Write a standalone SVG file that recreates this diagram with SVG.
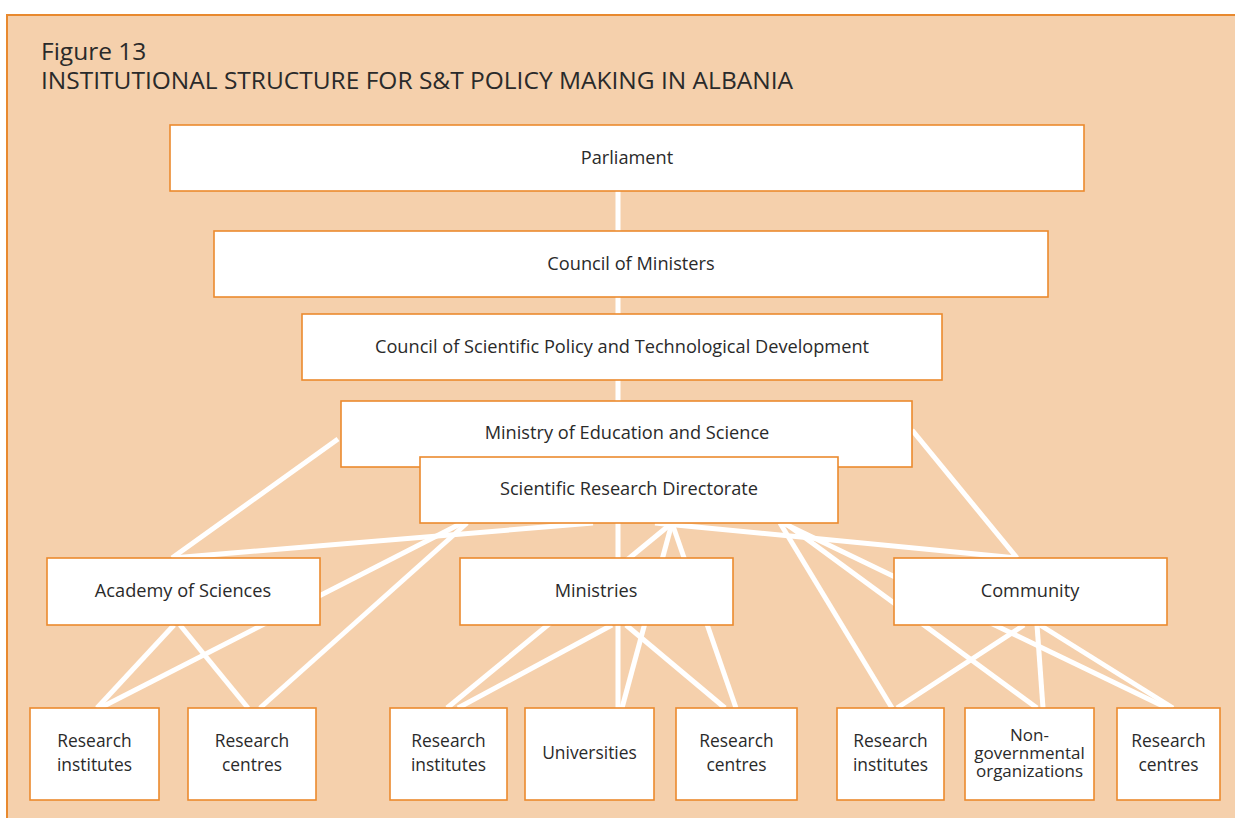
<svg xmlns="http://www.w3.org/2000/svg" width="1235" height="818" viewBox="0 0 1235 818">
<style>
.bg{fill:#F5D0AC;stroke:#E8892E;stroke-width:2}
.box{fill:#FFFFFF;stroke:#EC8A2E;stroke-width:1.6}
.t{font-family:"Open Sans","Noto Sans",sans-serif;font-size:18.2px;fill:#2A2A2A;text-anchor:middle}
.s{font-size:17.4px}
.n{font-size:17px}
.title{font-family:"Open Sans","Noto Sans",sans-serif;font-size:24.5px;fill:#2A2A2A}
.c line{stroke:#FFFFFF;stroke-width:5;fill:none}
</style>
<rect class="bg" x="7" y="15" width="1240" height="820"/>
<text class="title" x="41" y="60">Figure 13</text>
<text class="title" x="41" y="89">INSTITUTIONAL STRUCTURE FOR S&amp;T POLICY MAKING IN ALBANIA</text>
<g id="connectors" class="c">
<line x1="618" y1="191" x2="618" y2="708"/>
<line x1="338" y1="439" x2="172" y2="558"/>
<line x1="912" y1="430" x2="1017" y2="558"/>
<line x1="593" y1="523" x2="172" y2="558"/>
<line x1="655" y1="523" x2="1017" y2="558"/>
<line x1="462" y1="523" x2="100" y2="708"/>
<line x1="467" y1="523" x2="260" y2="708"/>
<line x1="672" y1="523" x2="447" y2="708"/>
<line x1="672" y1="523" x2="622" y2="708"/>
<line x1="672" y1="523" x2="736" y2="708"/>
<line x1="780" y1="523" x2="892" y2="708"/>
<line x1="785" y1="523" x2="1037" y2="708"/>
<line x1="783" y1="523" x2="1167" y2="708"/>
<line x1="174" y1="625" x2="97" y2="708"/>
<line x1="180" y1="625" x2="248" y2="708"/>
<line x1="612" y1="625" x2="458" y2="708"/>
<line x1="626" y1="625" x2="725" y2="708"/>
<line x1="1024" y1="625" x2="897" y2="708"/>
<line x1="1037" y1="625" x2="1043" y2="708"/>
<line x1="1040" y1="625" x2="1173" y2="708"/>
</g>
<g id="parliament"><rect class="box" x="170" y="125" width="914" height="66"/><text class="t" x="627" y="164">Parliament</text></g>
<g id="council-ministers"><rect class="box" x="214" y="231" width="834" height="66"/><text class="t" x="631" y="270">Council of Ministers</text></g>
<g id="council-scientific"><rect class="box" x="302" y="314" width="640" height="66"/><text class="t" x="622" y="353">Council of Scientific Policy and Technological Development</text></g>
<g id="ministry-education"><rect class="box" x="341" y="401" width="571" height="66"/><text class="t" x="627" y="439">Ministry of Education and Science</text></g>
<g id="directorate"><rect class="box" x="420" y="457" width="418" height="66"/><text class="t" x="629" y="495">Scientific Research Directorate</text></g>
<g id="academy"><rect class="box" x="47" y="558" width="273" height="67"/><text class="t" x="183" y="597">Academy of Sciences</text></g>
<g id="ministries"><rect class="box" x="460" y="558" width="273" height="67"/><text class="t" x="596" y="597">Ministries</text></g>
<g id="community"><rect class="box" x="894" y="558" width="273" height="67"/><text class="t" x="1030" y="597">Community</text></g>
<g id="ri1"><rect class="box" x="30" y="708" width="129" height="92"/><text class="t s" x="94.5" y="747">Research</text><text class="t s" x="94.5" y="771">institutes</text></g>
<g id="rc1"><rect class="box" x="188" y="708" width="128" height="92"/><text class="t s" x="252" y="747">Research</text><text class="t s" x="252" y="771">centres</text></g>
<g id="ri2"><rect class="box" x="390" y="708" width="117" height="92"/><text class="t s" x="448.5" y="747">Research</text><text class="t s" x="448.5" y="771">institutes</text></g>
<g id="universities"><rect class="box" x="525" y="708" width="129" height="92"/><text class="t s" x="589.5" y="759">Universities</text></g>
<g id="rc2"><rect class="box" x="676" y="708" width="121" height="92"/><text class="t s" x="736.5" y="747">Research</text><text class="t s" x="736.5" y="771">centres</text></g>
<g id="ri3"><rect class="box" x="837" y="708" width="107" height="92"/><text class="t s" x="890.5" y="747">Research</text><text class="t s" x="890.5" y="771">institutes</text></g>
<g id="ngo"><rect class="box" x="965" y="708" width="129" height="92"/><text class="t n" x="1029.5" y="741">Non-</text><text class="t n" x="1029.5" y="759">governmental</text><text class="t n" x="1029.5" y="777">organizations</text></g>
<g id="rc3"><rect class="box" x="1117" y="708" width="103" height="92"/><text class="t s" x="1168.5" y="747">Research</text><text class="t s" x="1168.5" y="771">centres</text></g>
</svg>
